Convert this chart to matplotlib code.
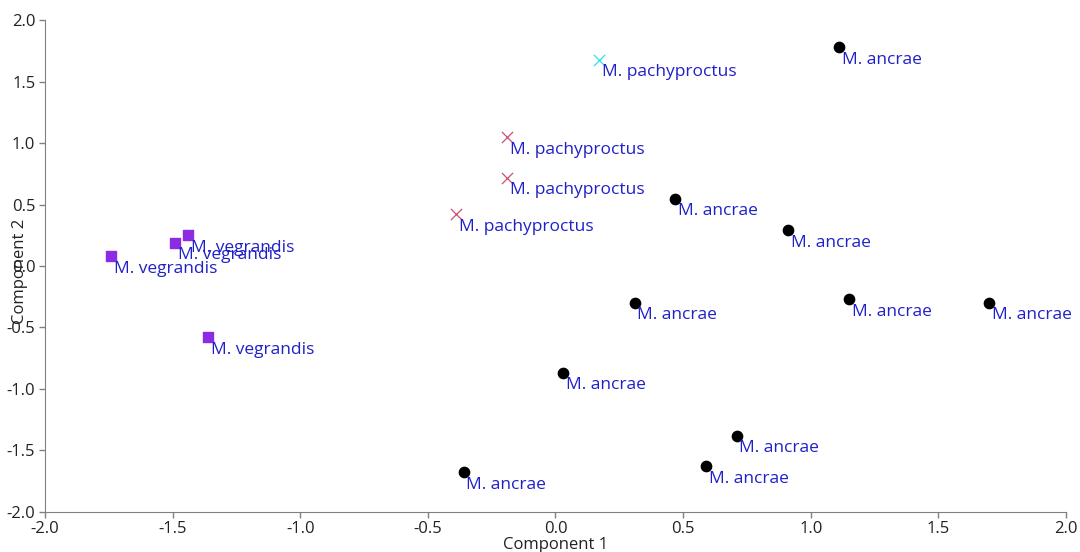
import matplotlib
matplotlib.use("Agg")
import matplotlib.pyplot as plt

# species groups, component scores
vegrandis_x = [-1.74, -1.49, -1.44, -1.36]
vegrandis_y = [0.08, 0.19, 0.25, -0.58]

pachy_x = [-0.19, -0.19, -0.39]
pachy_y = [1.05, 0.72, 0.42]

pachy_cyan_x = [0.17]
pachy_cyan_y = [1.68]

ancrae_x = [1.11, 0.47, 0.91, 0.31, 1.15, 1.70, 0.03, 0.71, 0.59, -0.36]
ancrae_y = [1.78, 0.55, 0.29, -0.30, -0.27, -0.30, -0.87, -1.38, -1.63, -1.68]

x_ticks = [-2.0, -1.5, -1.0, -0.5, 0.0, 0.5, 1.0, 1.5, 2.0]
y_ticks = [-2.0, -1.5, -1.0, -0.5, 0.0, 0.5, 1.0, 1.5, 2.0]

plt.rcParams['font.family'] = ['Open Sans', 'DejaVu Sans']


def label_points(ax, xs, ys, name):
    for x, y in zip(xs, ys):
        ax.annotate(name, (x, y), xytext=(2, -9), textcoords='offset points',
                    ha='left', va='center', fontsize=12.5, color='#2020c8')


def main():
    fig = plt.figure(figsize=(10.8, 5.52), dpi=100)
    ax = fig.add_axes([0.0417, 0.073, 0.9453, 0.890])

    ax.scatter(vegrandis_x, vegrandis_y, marker='s', s=55, color='#8b2be2', zorder=3)
    ax.scatter(pachy_x, pachy_y, marker='x', s=65, color='#c8506e', linewidths=0.9, zorder=3)
    ax.scatter(pachy_cyan_x, pachy_cyan_y, marker='x', s=65, color='#30e0e8', linewidths=0.9, zorder=3)
    ax.scatter(ancrae_x, ancrae_y, marker='o', s=55, color='black', zorder=3)

    label_points(ax, vegrandis_x, vegrandis_y, 'M. vegrandis')
    label_points(ax, pachy_x, pachy_y, 'M. pachyproctus')
    label_points(ax, pachy_cyan_x, pachy_cyan_y, 'M. pachyproctus')
    label_points(ax, ancrae_x, ancrae_y, 'M. ancrae')

    ax.set_xlim(-2, 2)
    ax.set_ylim(-2, 2)
    ax.set_xticks(x_ticks)
    ax.set_yticks(y_ticks)
    ax.set_xticklabels(['%.1f' % t for t in x_ticks])
    ax.set_yticklabels(['%.1f' % t for t in y_ticks])
    ax.tick_params(direction='out', length=4, width=1, color='#808080',
                   labelsize=12, labelcolor='#222222', pad=3)

    for side in ['top', 'right']:
        ax.spines[side].set_visible(False)
    for side in ['left', 'bottom']:
        ax.spines[side].set_color('#808080')

    ax.set_xlabel('Component 1', fontsize=12, color='#222222')
    ax.set_ylabel('Component 2', fontsize=12, color='#222222')
    ax.xaxis.set_label_coords(0.5, -0.052)
    ax.yaxis.set_label_coords(-0.0245, 0.49)
    ax.yaxis.label.set_va('center')

    plt.savefig('out.png', dpi=100)


if __name__ == '__main__':
    main()
